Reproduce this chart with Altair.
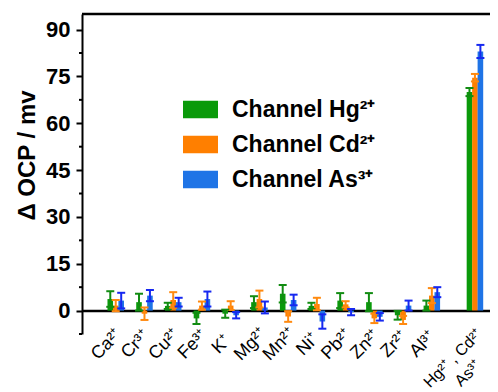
import altair as alt
import pandas as pd

# ---- data ----
ions = ["Ca²⁺", "Cr³⁺", "Cu²⁺", "Fe³⁺", "K⁺", "Mg²⁺", "Mn²⁺", "Ni⁺", "Pb²⁺",
        "Zn²⁺", "Zr²⁺", "Al³⁺"]
positions = [1, 2, 3, 4, 5, 6, 7, 8, 9, 10, 11, 12]
mix_label = "Hg²⁺ , Cd²⁺|As³⁺"
mix_position = 13.5

series = ["Channel Hg²⁺", "Channel Cd²⁺", "Channel As³⁺"]
hg_vals = [3.7, 2.7, 1.5, -2.5, -1.0, 2.7, 5.4, 1.5, 3.2, 2.7, -1.5, 1.6, 70.0]
hg_err = [2.5, 2.7, 1.0, 1.8, 1.3, 1.9, 2.8, 1.0, 2.4, 2.9, 1.4, 1.6, 1.3]
cd_vals = [1.6, -1.0, 3.4, 1.6, 1.6, 3.7, -1.9, 2.1, 2.0, -2.5, -3.0, 4.8, 74.6]
cd_err = [1.8, 2.0, 2.5, 1.3, 1.4, 2.7, 1.7, 2.0, 1.0, 1.5, 1.3, 2.4, 1.2]
as_vals = [3.2, 4.8, 2.7, 3.7, -1.5, 1.0, 3.4, -3.5, -0.5, -2.0, 1.6, 5.9, 83.0]
as_err = [2.5, 1.8, 1.4, 2.4, 1.0, 1.9, 1.7, 2.3, 1.0, 1.2, 1.6, 1.6, 2.1]

y_major = [0, 15, 30, 45, 60, 75, 90]
y_minor = [-7.5, 7.5, 22.5, 37.5, 52.5, 67.5, 82.5]

bar_colors = ["#0a9a0a", "#ff7f00", "#1f74e6"]
err_colors = ["#128c12", "#ff8a10", "#1628f0"]

Y_MIN, Y_MAX = -7.5, 95
X_MIN, X_MAX = 0, 13.85
GROUP_STEP = 0.19

all_pos = positions + [mix_position]
rows = []
for si, (name, vals, errs) in enumerate(zip(series, [hg_vals, cd_vals, as_vals],
                                            [hg_err, cd_err, as_err])):
    for p, v, e in zip(all_pos, vals, errs):
        rows.append({"series": name, "sidx": si, "pos": p, "val": v, "err": e,
                     "ecolor": err_colors[si]})
df = pd.DataFrame(rows)

FONT = "Liberation Sans"

base = alt.Chart(df).transform_calculate(
    xpos=f"datum.pos + (datum.sidx - 1) * {GROUP_STEP}",
    lo="datum.val - datum.err",
    hi="datum.val + datum.err",
)

xscale = alt.Scale(domain=[X_MIN, X_MAX], nice=False, zero=False)
yscale = alt.Scale(domain=[Y_MIN, Y_MAX], nice=False, zero=False)

x_axis = alt.Axis(
    values=all_pos, labels=False, title=None, grid=False, ticks=False,
    domainColor="black", domainWidth=2.5, offset=-23.4,
)
y_axis = alt.Axis(
    values=y_major,
    title="Δ OCP / mv", titleFont=FONT, titleFontSize=24, titleFontWeight="bold",
    titleColor="black", titleX=-55, titleY=141, titleAngle=270,
    titleAlign="center", titleBaseline="middle",
    labelFont=FONT, labelFontSize=22, labelFontWeight="bold", labelColor="black",
    labelPadding=6, grid=False, domainColor="black", domainWidth=2,
    tickColor="black", tickWidth=2, tickSize=6,
)

bars = base.mark_bar(size=5.6, opacity=1).encode(
    x=alt.X("xpos:Q", scale=xscale, axis=x_axis),
    y=alt.Y("val:Q", scale=yscale, axis=y_axis),
    color=alt.Color(
        "series:N", sort=series,
        scale=alt.Scale(domain=series, range=bar_colors),
        legend=alt.Legend(
            title=None, orient="none", legendX=101, legendY=78,
            symbolType="M-1,-0.5H1V0.5H-1Z", symbolSize=1225,
            symbolStrokeWidth=0, symbolOpacity=1,
            labelFont=FONT, labelFontSize=23, labelFontWeight="bold",
            labelColor="black", labelOffset=14, rowPadding=5, padding=0,
            labelLimit=300,
        ),
    ),
)

err_rule = base.mark_rule(strokeWidth=2).encode(
    x="xpos:Q", y="lo:Q", y2="hi:Q", color=alt.Color("ecolor:N", scale=None)
)
cap_lo = base.mark_tick(orient="horizontal", size=8, thickness=2, opacity=1).encode(
    x="xpos:Q", y="lo:Q", color=alt.Color("ecolor:N", scale=None)
)
cap_hi = base.mark_tick(orient="horizontal", size=8, thickness=2, opacity=1).encode(
    x="xpos:Q", y="hi:Q", color=alt.Color("ecolor:N", scale=None)
)

top_line = alt.Chart(pd.DataFrame({"y": [Y_MAX]})).mark_rule(
    color="black", strokeWidth=2.5
).encode(y=alt.Y("y:Q", scale=yscale))

minor_ticks = alt.Chart(pd.DataFrame({"v": y_minor})).mark_rule(
    color="black", strokeWidth=2
).encode(x=alt.value(-3), x2=alt.value(0), y=alt.Y("v:Q", scale=yscale))

lab_df = pd.DataFrame({"pos": positions, "label": ions, "zero": 0})
ion_labels = alt.Chart(lab_df).mark_text(
    angle=315, align="center", baseline="middle", dx=-30.4, dy=17.7,
    font=FONT, fontSize=18, color="black",
).encode(x=alt.X("pos:Q", scale=xscale), y=alt.Y("zero:Q", scale=yscale),
         text="label:N")

mix_df = pd.DataFrame({"pos": [mix_position], "label": [mix_label], "zero": [0]})
mix_text = alt.Chart(mix_df).mark_text(
    angle=315, align="center", baseline="middle", dx=-49.5, dy=18.4,
    lineBreak="|", lineHeight=21,
    font=FONT, fontSize=16, color="black",
).encode(x=alt.X("pos:Q", scale=xscale), y=alt.Y("zero:Q", scale=yscale),
         text="label:N")

chart = alt.layer(bars, err_rule, cap_lo, cap_hi, top_line, minor_ticks,
                  ion_labels, mix_text).properties(
    width=408, height=320,
    autosize=alt.AutoSizeParams(type="none"),
    padding={"left": 74, "top": 6, "right": 0, "bottom": 58},
).configure_view(stroke=None)

chart.save("out.html", embed_options={"renderer": "svg", "actions": False})
